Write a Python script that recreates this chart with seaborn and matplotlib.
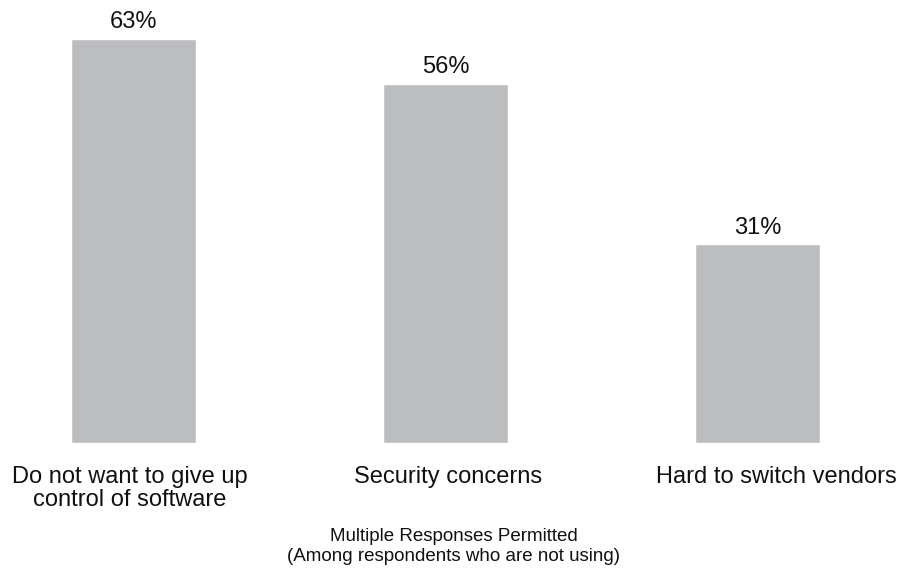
import matplotlib
matplotlib.use("Agg")
import matplotlib.pyplot as plt
import matplotlib.transforms as mtransforms
import seaborn as sns
import pandas as pd

categories = ["Do not want to give up\ncontrol of software",
              "Security concerns",
              "Hard to switch vendors"]
values = [63, 56, 31]
footnote = "Multiple Responses Permitted\n(Among respondents who are not using)"

sns.set_style("white")
plt.rcParams["font.family"] = ["Liberation Sans", "DejaVu Sans"]

W, H = 907, 574
fig = plt.figure(figsize=(W / 100, H / 100), dpi=100)

# axes: baseline at 443 px from top, full figure width
base_px = 443
top_px = 7
ax = fig.add_axes([0, (H - base_px) / H, 1, (base_px - top_px) / H])

df = pd.DataFrame({"category": categories, "value": values})
sns.barplot(data=df, x="category", y="value", color="#bcbdbf",
            saturation=1, width=0.4, ax=ax)

px_per_unit = 312.0
ax.set_xlim(-133.5 / px_per_unit, (W - 133.5) / px_per_unit)
ax.set_ylim(0, (base_px - top_px) / (404 / 63))

for c in ax.containers:
    ax.bar_label(c, labels=[f"{v}%" for v in values], padding=4,
                 fontsize=17, color="#111111")

ax.set_xlabel("")
ax.set_ylabel("")
ax.set_yticks([])
ax.tick_params(axis="x", length=0, pad=16.5, labelsize=17, labelcolor="#111111")

# small horizontal nudges of the category labels (pixels)
label_shift_px = [-4, 3, 19]
for lbl, dx in zip(ax.get_xticklabels(), label_shift_px):
    lbl.set_linespacing(1.05)
    lbl.set_transform(lbl.get_transform() +
                      mtransforms.ScaledTranslation(dx / 100, 0, fig.dpi_scale_trans))
for s in ax.spines.values():
    s.set_visible(False)

fig.text(0.5, 1 - 528 / H, footnote, ha="center", va="top",
         fontsize=13.5, color="#111111", linespacing=1.2)

fig.savefig("out.png", dpi=100)
